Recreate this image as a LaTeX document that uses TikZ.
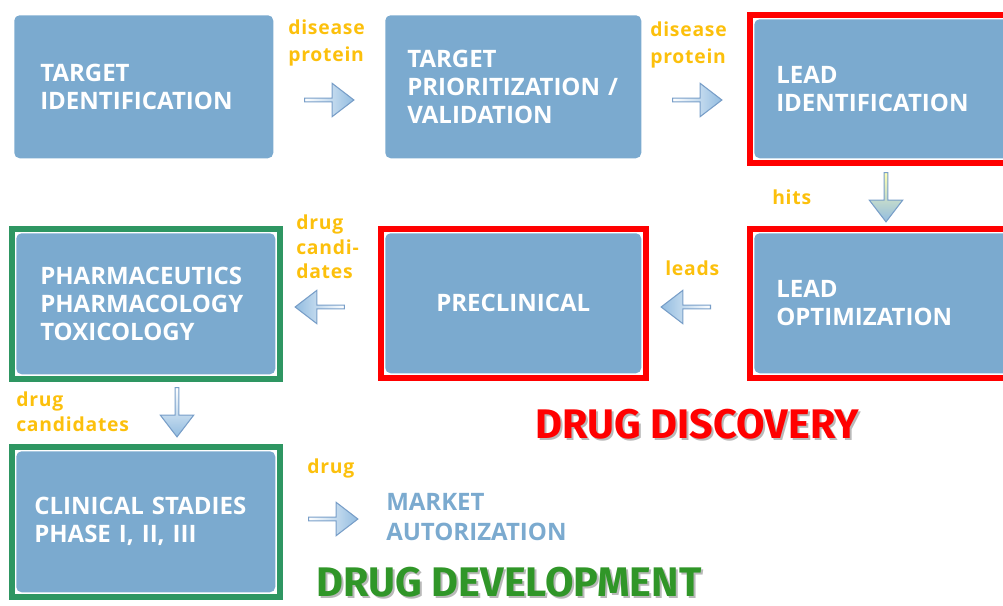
\documentclass[tikz,border=0pt]{standalone}
\usepackage{fontspec}
\setmainfont{Open Sans}
\newfontfamily\labelfont{Open Sans}[LetterSpace=4]
\newfontfamily\titlefont{Fira Sans}
\usetikzlibrary{fit,shapes.arrows}

\definecolor{boxblue}{RGB}{123,170,207}
\definecolor{labelorange}{RGB}{252,192,12}
\definecolor{arrowblue}{RGB}{146,188,224}
\definecolor{arrowline}{RGB}{120,158,200}
\definecolor{framegreen}{RGB}{46,150,98}
\definecolor{titlegreen}{RGB}{48,150,40}

\begin{document}
\begin{tikzpicture}[x=0.75pt,y=-0.75pt,
	stage_box/.style={fill=boxblue,rounded corners=4pt,anchor=north west,text=white,align=left,inner ysep=0pt,font=\bfseries\fontsize{18}{21}\selectfont},
	red_frame/.style={draw=red,line width=4.5pt,inner sep=3pt},
	green_frame/.style={draw=framegreen,line width=4.5pt,inner sep=3pt},
	flow_label/.style={text=labelorange,anchor=west,align=left,inner sep=0pt,font=\labelfont\bfseries\fontsize{14.5}{20}\selectfont},
	flow_arrow/.style={single arrow,draw=arrowline,line width=0.8pt,inner sep=0pt,minimum height=37pt,minimum width=25pt,single arrow head extend=3.2pt,single arrow tip angle=75},
	phase_title/.style={inner sep=0pt,font=\titlefont\bfseries\fontsize{31}{33}\selectfont}]
	\useasboundingbox (0,0) rectangle (1003,606);

	% stages
	\node[stage_box,text width=155.25pt,inner xsep=19.5pt,minimum height=107.25pt] (targetid) at (14,15) {TARGET\\IDENTIFICATION};
	\node[stage_box,text width=159pt,inner xsep=16.5pt,minimum height=107.25pt] (targetval) at (385,15) {TARGET\\PRIORITIZATION /\\VALIDATION};
	\node[stage_box,text width=160.5pt,inner xsep=16.5pt,minimum height=104.25pt] (leadid) at (754,19) {LEAD\\IDENTIFICATION};
	\node[stage_box,text width=160.5pt,inner xsep=16.5pt,minimum height=105pt] (leadopt) at (754,233) {LEAD\\OPTIMIZATION};
	\node[stage_box,text width=159pt,inner xsep=16.5pt,minimum height=105pt,align=center] (preclin) at (385,233) {PRECLINICAL};
	\node[stage_box,text width=158.25pt,inner xsep=18pt,minimum height=105.75pt] (pharma) at (16,233) {PHARMACEUTICS\\PHARMACOLOGY\\TOXICOLOGY};
	\node[stage_box,text width=167.25pt,inner xsep=13.5pt,minimum height=105.75pt] (clinical) at (16,451) {CLINICAL STADIES\\PHASE I, II, III};
	\node[text=boxblue,anchor=west,align=left,inner sep=0pt,font=\bfseries\fontsize{18}{22.5}\selectfont] (market) at (386,517) {MARKET\\AUTORIZATION};

	% frames
	\node[red_frame,fit=(leadid)] (leadidframe) {};
	\node[red_frame,fit=(leadopt)] (leadoptframe) {};
	\node[red_frame,fit=(preclin)] (preclinframe) {};
	\node[green_frame,fit=(pharma)] (pharmaframe) {};
	\node[green_frame,fit=(clinical)] (clinicalframe) {};

	% arrows
	\node[flow_arrow,left color=white,middle color=arrowblue!75,right color=arrowblue] (arrowa) at (328,100) {};
	\node[flow_arrow,left color=white,middle color=arrowblue!75,right color=arrowblue] (arrowb) at (696,100) {};
	\node[flow_arrow,shape border rotate=270,top color=yellow!30,middle color=arrowblue!75,bottom color=arrowblue] (arrowc) at (886,196) {};
	\node[flow_arrow,shape border rotate=180,left color=arrowblue,middle color=arrowblue!75,right color=white] (arrowd) at (687,307) {};
	\node[flow_arrow,shape border rotate=180,left color=arrowblue,middle color=arrowblue!75,right color=white] (arrowe) at (321,307) {};
	\node[flow_arrow,shape border rotate=270,top color=white,middle color=arrowblue!75,bottom color=arrowblue] (arrowf) at (177,411) {};
	\node[flow_arrow,left color=white,middle color=arrowblue!75,right color=arrowblue] (arrowg) at (332,519) {};

	% labels
	\node[flow_label] (diseasea) at (288,43) {disease\\protein};
	\node[flow_label] (diseaseb) at (650,45) {disease\\protein};
	\node[flow_label] (hits) at (772,197) {hits};
	\node[flow_label] (leads) at (665,268) {leads};
	\node[flow_label,font=\labelfont\bfseries\fontsize{14.5}{18.5}\selectfont] (candidatesa) at (296,247) {drug\\candi-\\dates};
	\node[flow_label,font=\labelfont\bfseries\fontsize{14.5}{18.5}\selectfont] (candidatesb) at (16,412) {drug\\candidates};
	\node[flow_label] (drug) at (307,468) {drug};

	% phase titles
	\node[phase_title,text=gray!55] (discoveryshadow) at (699,426) {DRUG DISCOVERY};
	\node[phase_title,text=red] (discovery) at (697,424) {DRUG DISCOVERY};
	\node[phase_title,text=gray!55] (developmentshadow) at (511,584) {DRUG DEVELOPMENT};
	\node[phase_title,text=titlegreen] (development) at (509,582) {DRUG DEVELOPMENT};
\end{tikzpicture}
\end{document}
